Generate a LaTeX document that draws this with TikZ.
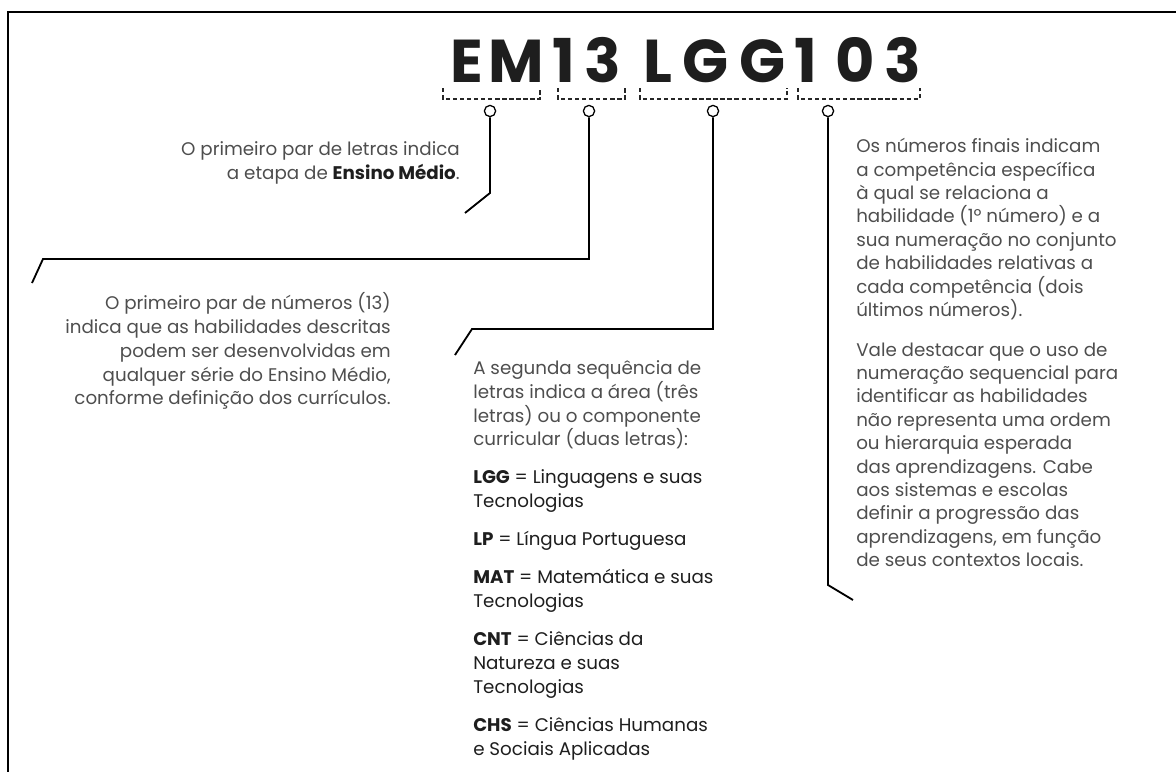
\documentclass[tikz,border=0pt]{standalone}
\usepackage{fontspec}
\setmainfont{Poppins}
\usepackage{xcolor}
\usepackage{tikz}
\definecolor{notegray}{HTML}{4E4E4E}
\definecolor{ink}{HTML}{1E1E1E}
\newcommand{\sigla}[1]{{\color{ink}\bfseries #1}}

\begin{document}
\begin{tikzpicture}[
  x=0.025cm, y=-0.025cm,
  codechar/.style={inner sep=0pt, anchor=base, font=\fontsize{43}{43}\selectfont\bfseries, text=ink},
  note/.style={inner sep=0pt, text=notegray, font=\fontsize{13}{17}\selectfont},
  pinhole/.style={circle, draw=black, line width=0.9pt, fill=white, minimum size=8, inner sep=0pt},
  leader/.style={draw=black, line width=1.3pt},
  bracket/.style={draw=black!85, line width=0.9pt, dash pattern=on 3pt off 2pt},
  frame/.style={draw=black, line width=1.2pt},
]
\useasboundingbox (0,0) rectangle (1176,771);

% Frame (open on the right and bottom)
\draw[frame] (8,780) -- (8,12) -- (1185,12);

% Code letters
\foreach \ch/\cx [count=\i] in {E/467, M/516, 1/564, 3/603, L/658, G/706, G/763, 1/806, 0/855, 3/903}
  \node[codechar] (code-\i) at (\cx,82) {\ch};

% Dashed brackets under the groups
\draw[bracket] (443,88) -- (443,99) -- (540,99) -- (540,88);
\draw[bracket] (558,88) -- (558,99) -- (625,99) -- (625,88);
\draw[bracket] (640,88) -- (640,99) -- (787,99) -- (787,88);
\draw[bracket] (798,88) -- (798,99) -- (920,99) -- (920,88);

% Pins
\node[pinhole] (pin-em) at (490,111) {};
\node[pinhole] (pin-13) at (589,111) {};
\node[pinhole] (pin-lgg) at (713,111) {};
\node[pinhole] (pin-103) at (828,111) {};

% Leader bends and free ends
\coordinate (knee-em) at (490,193);
\coordinate (end-em) at (465,213);
\coordinate (knee-13) at (43,259);
\coordinate (end-13) at (32,283);
\coordinate (knee-lgg) at (472,329);
\coordinate (end-lgg) at (455,355);
\coordinate (knee-103) at (828,585);
\coordinate (end-103) at (853,600);

% Leaders
\draw[leader] (pin-em.south) -- (knee-em) -- (end-em);
\draw[leader] (pin-13.south) |- (knee-13) -- (end-13);
\draw[leader] (pin-lgg.south) |- (knee-lgg) -- (end-lgg);
\draw[leader] (pin-103.south) -- (knee-103) -- (end-103);

% Notes
\node[note, align=right, anchor=north east] (etapa) at (460,141)
  {O primeiro par de letras indica\\a etapa de \sigla{Ensino Médio}.};

\node[note, align=right, anchor=north east] (serie) at (391,292)
  {O primeiro par de números (13)\\indica que as habilidades descritas\\podem ser desenvolvidas em\\qualquer série do Ensino Médio,\\conforme definição dos currículos.};

\node[note, align=left, anchor=north west] (area) at (473,360)
  {A segunda sequência de\\letras indica a área (três\\letras) ou o componente\\curricular (duas letras):\\[10pt]
   {\color{ink}\sigla{LGG} = Linguagens e suas}\\{\color{ink}Tecnologias}\\[10pt]
   {\color{ink}\sigla{LP} = Língua Portuguesa}\\[10pt]
   {\color{ink}\sigla{MAT} = Matemática e suas}\\{\color{ink}Tecnologias}\\[10pt]
   {\color{ink}\sigla{CNT} = Ciências da}\\{\color{ink}Natureza e suas}\\{\color{ink}Tecnologias}\\[10pt]
   {\color{ink}\sigla{CHS} = Ciências Humanas}\\{\color{ink}e Sociais Aplicadas}};

\node[note, align=left, anchor=north west, font=\fontsize{13}{16.65}\selectfont] (competencia) at (856,138)
  {Os números finais indicam\\a competência específica\\à qual se relaciona a\\habilidade (1º número) e a\\sua numeração no conjunto\\de habilidades relativas a\\cada competência (dois\\últimos números).\\[11.5pt]
   Vale destacar que o uso de\\numeração sequencial para\\identificar as habilidades\\não representa uma ordem\\ou hierarquia esperada\\das aprendizagens. Cabe\\aos sistemas e escolas\\definir a progressão das\\aprendizagens, em função\\de seus contextos locais.};

\end{tikzpicture}
\end{document}
